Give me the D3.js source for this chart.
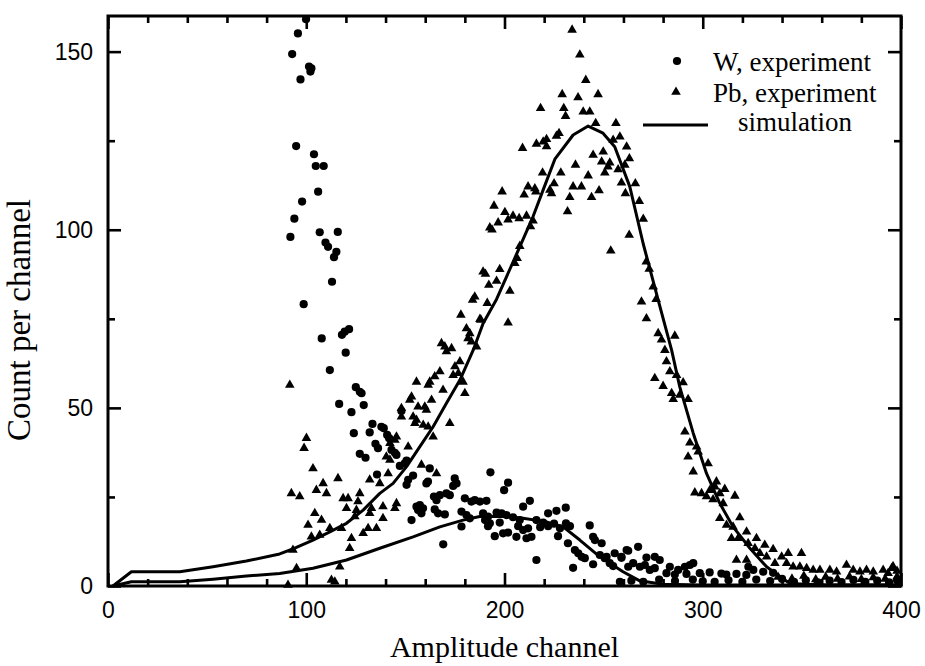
<!DOCTYPE html>
<html>
<head>
<meta charset="utf-8">
<script src="https://cdn.jsdelivr.net/npm/d3@7"></script>
<style>
  body { margin: 0; background: #fff; }
  .tick text { font-family: "Liberation Sans", Arial, sans-serif; font-size: 23px; fill: #000; }
  .title { font-family: "Liberation Serif", "Times New Roman", serif; fill: #000; }
</style>
</head>
<body>
<svg id="chart" width="925" height="666"></svg>
<script>
// W, experiment (channel, count)
const wPoints = [
  [99.9,159.1],[95.8,155.1],[92.9,149.3],[101.4,145.8],[102.6,145.3],[102.1,144.4],[97.1,142.2],[94.9,123.5],
  [103.9,121.2],[104.8,117.9],[108.8,117.9],[106,110.7],[97.9,107.9],[94,103.1],[92,98],[106.8,99.3],
  [115.9,99.4],[109.7,96.4],[111,95.2],[115.2,93.8],[114,92.3],[113,85.4],[98.7,79.1],
  [107.8,69.5],[118,70.5],[119.4,71.4],[121.6,72.1],[119.9,65.5],[111.9,60.6],[125,55.8],[127,54.5],
  [127.9,54.1],[116.6,51.1],[129,50.8],[122.8,48.8],[148,49.1],[133.4,45.5],[137.9,44.7],[139.1,44.3],
  [124,42.9],[132,43.1],[140.8,42.4],[141.8,41.5],[134.9,39.9],[136.2,38.7],[143,38.2],[144.7,37.4],
  [145.5,36.8],[127,37.1],[129.9,36],[150.6,35.2],[149.7,34.4],[147.2,33.7],[162.3,33],[135.7,31.3],
  [153.9,31],[150.6,28.4],[151.4,29.8],[160.6,28.8],[161.4,29.3],[174.9,30.2],[175.8,28.8],[174.1,28.1],
  [192.9,31.9],[201.8,29],[199.8,26.9],
  [164.4,25.1],[165.7,24.1],[167.4,25.5],[170.7,26],[172.4,25.5],[180,24.6],[183.3,23.7],[185,24.1],
  [187.6,23.7],[190.9,23.9],[155.6,22.3],[156.4,21.3],[158.9,21.8],[158.1,20.4],[157.3,22.7],[164.8,21.5],
  [166.5,20.4],[169.9,20.1],[153.1,18.5],[178.3,20.9],[180.8,19.9],[182.5,19],[189.2,20.4],[191.7,19.5],
  [190.2,18.5],[192.6,17.6],[196,20.6],[198.5,20.4],[201,19.9],[204.3,19.3],[207.7,18.5],[209.4,22.3],
  [212.8,23.9],[178.3,16.7],[191.7,16.8],[197.6,17.8],[195.1,14],[199.3,14.8],[201.8,15],[206,13.8],
  [211.1,13.4],[213.6,13.8],[206.9,16.8],[209.4,15.7],[211.9,16.2],[216.1,18.5],[219.5,17.8],[222,20.4],
  [226.2,21.1],[230.9,22],[216.1,7.3],[218,16.5],[222,16.8],[225,17.5],[228,16.2],[231,17.6],[233,16.8],
  [227,14],[232,12],[243,17],[244.7,13.8],[245.6,12.9],[235.5,10.1],[237.2,9.2],[238.9,8.2],[240.5,7.8],
  [234.6,5.1],[244.7,6.1],[248.1,8.7],[250.6,7.8],[253.1,6.4],[254.8,5.6],[259,7.9],[261.6,10.1],
  [262.4,5.4],[258.2,1.2],[169.1,11.7],
  [249,12],[267.4,11],[262.4,9.9],[259,8.2],[255.6,9.2],[251.5,8.2],[271.6,8],[275.8,8.2],[278.3,7.3],
  [264.9,6.4],[268.3,5.4],[270.8,5.9],[273.3,4.5],[275.8,5],[283.4,5.4],[287.6,4.5],[291,5.4],[293.5,5.9],
  [295.2,6.4],[281.7,3.6],[285.9,3.2],[291.8,3.4],[298.5,3.6],[303.5,3.8],[309.4,3.5],[311.9,3.2],
  [317,3.4],[322,3.1],[323,5.4],[325.5,4.5],[330.5,4],[335.5,3.7],
  [264,1.5],[270,1.2],[278,1.8],[286,1.4],[295,1.8],[300,1.3],[306,1.2],[313,1.6],[320,1.2],[327,1.8],
  [334,1.4],[340,2],[346,1.2],[352,1.6],[358,1],[364,1.5],[370,1.1],[376,1.7],[382,1.2],[388,1.5],
  [394,1],[398,1.6]
];

// Pb, experiment (channel, count)
const pbPoints = [
  [234.1,156.1],[238,149.1],[241,142],[229.1,138],[237.1,137.1],[247.2,138],[218.2,134.1],[229.9,134.1],
  [230.8,131.9],[239.7,133.1],[243,133.1],[246,129.9],[256.2,129.9],[209.1,122.9],[216.1,124.1],
  [219.5,124.7],[221.2,125.4],[226.2,126.3],[227.5,127.1],[221.2,123.4],[254.8,125.2],[258.2,126.1],
  [261.6,123.3],[244.7,121],[249.8,121.9],[249,119.1],[253.1,118.8],[252.2,117.7],[250.6,116],
  [257.3,116.9],[260.7,118.2],[235.8,118.2],[219.2,116],[228.4,116],[242.2,115.2],[259,113.2],[261,110.2],
  [211.9,112.1],[215.3,111.6],[225,113],[222.9,111.2],[223.7,110.2],[234.6,112.1],[238.8,112.1],
  [247.7,111],[232.9,109.1],[243.9,109.1],[209.9,109.8],[215.8,110.7],[198.8,110.7],[194.7,106.7],
  [231.8,105.1],[200.2,104.9],[204.3,103.9],[207.4,103.2],[211.1,103.9],[201.8,102.8],[196.8,102],
  [192.6,100.6],[193.7,100],[214.4,102.5],[213.1,100.9],[207.7,95.4],[206.4,92],[205.2,90.6],[253.6,94.1],
  [262.9,98.5],[189.2,88.2],[190.4,87.6],[197.6,88.9],[196,85.6],[192.1,84.5],[202.7,82.8],[185,81.2],
  [183.9,80.3],[191.3,79.4],[178,76.1],[187.6,74.9],
  [263,120],[266,113],[268,108],[270,103],[271.5,91],[273,89],[275,84],[276.5,80.5],
  [269.1,79.8],[271.6,75.1],[277.5,70.9],[279.2,69.1],[285.9,70.2],[280.9,66.2],[281.7,63],[283.4,60.2],
  [286.8,59.2],[275.8,58.3],[280,56.1],[284.3,54.1],[285.1,52.4],[288.4,53.6],[290.1,57.1],[292.6,52.4],
  [291,43.3],[293.5,40.2],[296.9,39.1],[297.7,37.7],[292.6,36.3],[295.2,32.1],[302.7,34.4],[296,26.2],
  [299.4,26],[301.9,25.1],[303.6,26.9],[306.9,29.3],[306.1,27.9],[308.6,26],[311.1,27.2],[316.2,25.3],
  [310.3,23.2],[305.2,24.3],[308.6,19],[312,17.1],[315.3,16.6],[318.7,19.2],[314.5,13.4],[317.9,13.4],
  [322.1,15.2],[322.9,12],[327.1,13.4],[326.3,10.6],[331.3,11.5],[328.8,9.2],[335.5,10.3],[317,7.3],
  [322.1,7.3],[332.2,8.2],[336.4,6.4],[339.8,8.2],[343.1,9.2],[349.8,9.2],[342.3,6.4],[345.6,5.4],
  [349,5.4],[352.4,5],[355.7,4.5],[359.1,4.5],[364.1,4.5],[367.5,4],[372.5,5.9],[375.9,4.5],[379.3,4],
  [382.6,4.5],[386,4],[391,4.5],[395.3,5],[393.5,3.6],
  [338,2.5],[345,2],[351,2.8],[357,1.8],[362,2.5],[368,2],[374,2.6],[380,1.9],[386,2.4],[392,2],
  [398,2.6],[398,4.2],[396,5.5],
  [201.8,73.9],[188.1,74.7],[180.8,72.3],[182.5,70.9],[181.6,69.5],[183.3,68.6],[185.9,67.2],[168.2,68.1],
  [169.9,67.2],[170.7,65.8],[173.3,66.7],[177.5,63],[175,61.6],[176.7,59.7],[174.1,59.2],[179.1,57.3],
  [180,54.1],[167.4,60.2],[164.8,58.8],[162.3,57.3],[155.6,57.3],[161.5,56.4],[169,55],[153.1,53.1],
  [152.2,52.2],[163.2,52.2],[156.4,50.3],[159.8,50.3],[160.6,49.4],[148,49.9],[148,47.5],[153.9,47.5],
  [155.6,46.6],[154.8,45.7],[159,45.2],[161.5,44.7],[172.4,45.7],[164,41.9],[145.5,41.9],[144.7,41],
  [142.2,40.1],[151.4,39.1],[140.4,36.3],[142.2,35.4],[158.1,34],[165.7,31.6],[141.3,31.6],[132,29.8],
  [137.1,28.8],
  [100.1,41.5],[98.9,38.7],[103.4,33],[92.5,26],[96.7,25.1],[108.5,28.8],[105.1,26.9],[110.2,26],
  [116,30.2],[121.1,24.6],[127,26],[126.1,23.7],[120.3,21.8],[124.5,19.5],[132.9,21.8],[104.3,20.4],
  [107.7,18.5],[100.9,17.1],[111.9,16.2],[117.8,16.2],[118.6,24.6],[125.3,21.3],[132,20.4],[138.7,22.3],
  [145.5,23.2],[144.7,21.8],[138.7,19],[135.4,16.2],[131.2,16.2],[128.7,14.8],[122.8,13.4],[121.9,10.6],
  [106.8,14.3],[102.6,13.8],[93.3,10.1],[95.1,5],[116.9,5.4],[91.7,56.4],[90.8,0.3],[112.7,1.7],[114.4,1.2]
];

// simulation curves
const simPb = [
  [2.5,0],[11.8,4],[36.2,4],[53,5.4],[69.8,7],[86.6,9],[94.2,10.6],[103.4,12.9],[111.9,15.2],
  [120.3,17.6],[128.7,21.3],[137.1,26],[143.8,28.8],[150.6,33.5],[157.3,39.1],[164,44.7],[170.7,51.3],
  [177.5,57.8],[184.2,66.2],[189.2,73.7],[196,80.5],[201,86.8],[207.7,95.2],[214.4,103.7],[219.5,111.2],
  [225.4,119.8],[234.6,126.6],[242.2,129.1],[249.7,127.1],[255.6,123.3],[263.2,112.1],[270,96],
  [277.5,80.3],[284.3,66.2],[288.4,55.9],[295.2,42.9],[301.9,31.6],[308.6,23.2],[315.3,16.6],
  [323.8,10.6],[332.2,5.4],[339,2.6],[344,0.7],[360,0.3],[400,0.3]
];
const simW = [
  [2.5,0],[11.8,1.2],[36.2,1.2],[53,1.9],[69.8,2.8],[86.6,3.5],[103.4,5],[120.3,7.3],[137.1,10.6],
  [153.9,13.8],[167.4,16.6],[179.1,18.5],[187.5,19.5],[199.3,19.6],[209.4,19],[221.2,18],[229.6,16.6],
  [238,12.9],[248.1,8.2],[259.8,4],[268,1.5],[280,0.5],[300,0.3],[400,0.3]
];

const xMajor = [0, 100, 200, 300, 400];
const yMajor = [0, 50, 100, 150];
const legendLabels = ["W, experiment", "Pb, experiment", "simulation"];

const margin = {top: 16, right: 24, bottom: 80, left: 108};
const svg = d3.select("#chart");
const width = 925 - margin.left - margin.right;
const height = 666 - margin.top - margin.bottom;

const x = d3.scaleLinear().domain([0, 400]).range([0, width]);
const y = d3.scaleLinear().domain([0, 160]).range([height, 0]);

const g = svg.append("g").attr("transform", `translate(${margin.left},${margin.top})`);

// axes: major ticks with labels, minor ticks without, all pointing inward
const xMinor = d3.range(0, 401, 20).filter(v => v % 100);
const yMinor = d3.range(25, 160, 50);

function addAxis(axis, transform, labels) {
  const a = g.append("g").attr("transform", transform).call(axis);
  a.select(".domain").remove();
  a.selectAll("line").attr("stroke", "#000").attr("stroke-width", 2.6);
  if (!labels) a.selectAll("text").remove();
  return a;
}

addAxis(d3.axisBottom(x).tickValues(xMajor).tickSize(-13).tickPadding(16).tickFormat(d3.format("d")), `translate(0,${height})`, true);
addAxis(d3.axisBottom(x).tickValues(xMinor).tickSize(-7), `translate(0,${height})`, false);
addAxis(d3.axisTop(x).tickValues(xMajor).tickSize(-13), "translate(0,0)", false);
addAxis(d3.axisTop(x).tickValues(xMinor).tickSize(-7), "translate(0,0)", false);
addAxis(d3.axisLeft(y).tickValues(yMajor).tickSize(-13).tickPadding(15).tickFormat(d3.format("d")), "translate(0,0)", true);
addAxis(d3.axisLeft(y).tickValues(yMinor).tickSize(-7), "translate(0,0)", false);
addAxis(d3.axisRight(y).tickValues(yMajor).tickSize(-13), `translate(${width},0)`, false);
addAxis(d3.axisRight(y).tickValues(yMinor).tickSize(-7), `translate(${width},0)`, false);

// frame
g.append("rect")
  .attr("width", width).attr("height", height)
  .attr("fill", "none").attr("stroke", "#000").attr("stroke-width", 3);

// simulation lines
const line = d3.line().x(d => x(d[0])).y(d => y(d[1]));
[simPb, simW].forEach(s => {
  g.append("path").datum(s)
    .attr("d", line)
    .attr("fill", "none").attr("stroke", "#000")
    .attr("stroke-width", 3).attr("stroke-linejoin", "round");
});

// markers
const tri = d3.symbol().type(d3.symbolTriangle).size(40);
g.selectAll(".pb").data(pbPoints).enter().append("path")
  .attr("class", "pb")
  .attr("d", tri)
  .attr("transform", d => `translate(${x(d[0])},${y(d[1])})`)
  .attr("fill", "#000");

g.selectAll(".w").data(wPoints).enter().append("circle")
  .attr("class", "w")
  .attr("cx", d => x(d[0])).attr("cy", d => y(d[1]))
  .attr("r", 4.1).attr("fill", "#000");

// legend
const lg = svg.append("g");
lg.append("circle").attr("cx", 677).attr("cy", 61).attr("r", 4.1).attr("fill", "#000");
lg.append("path").attr("d", tri).attr("transform", "translate(676,92)").attr("fill", "#000");
lg.append("line").attr("x1", 643).attr("x2", 708).attr("y1", 125).attr("y2", 125)
  .attr("stroke", "#000").attr("stroke-width", 3);
[[713, 71], [713, 102], [738, 131]].forEach((p, i) => {
  lg.append("text").attr("class", "title")
    .attr("x", p[0]).attr("y", p[1])
    .style("font-size", "27px")
    .text(legendLabels[i]);
});

// axis titles
svg.append("text").attr("class", "title")
  .attr("x", margin.left + width / 2).attr("y", 657)
  .attr("text-anchor", "middle").style("font-size", "30px")
  .text("Amplitude channel");

svg.append("text").attr("class", "title")
  .attr("transform", `translate(30,320) rotate(-90)`)
  .attr("text-anchor", "middle").style("font-size", "33px")
  .text("Count per channel");
</script>
</body>
</html>
